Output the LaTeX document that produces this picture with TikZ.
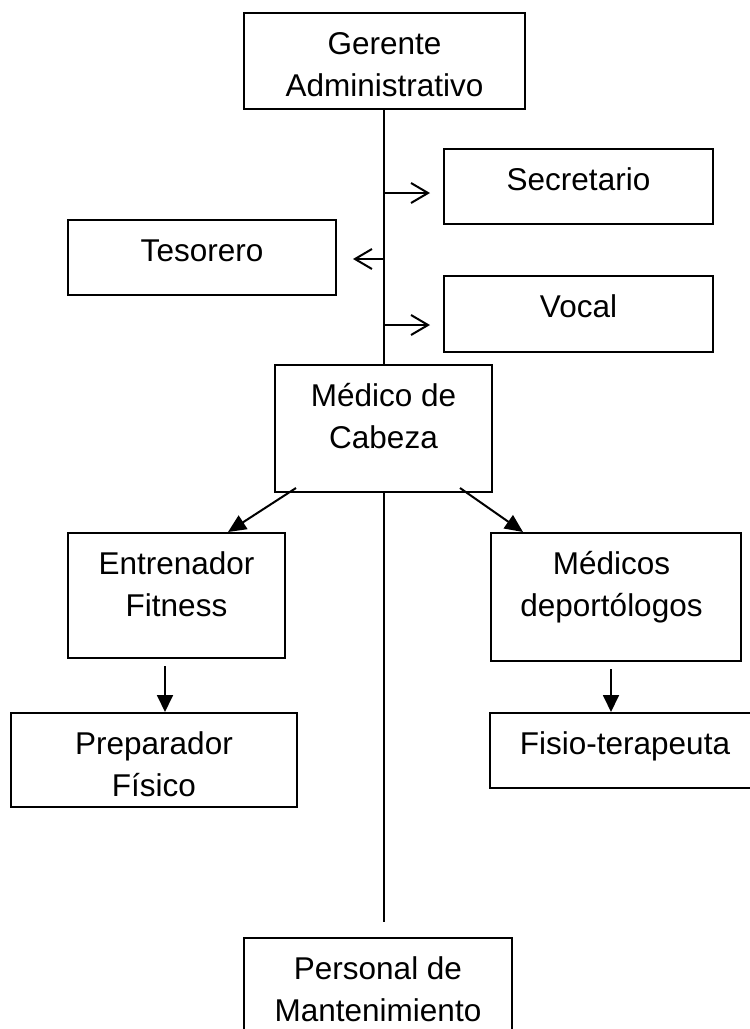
\documentclass[tikz,border=0pt]{standalone}
\usepackage{fontspec}
\setmainfont{Liberation Sans}
\usetikzlibrary{arrows.meta,calc}
\tikzset{
  box/.style={draw=black, line width=2pt, rectangle, inner sep=0pt, fill=white},
  lbl/.style={anchor=base, inner sep=0pt, align=center, font=\fontsize{31.5}{41.5}\selectfont},
  conn/.style={draw=black, line width=2pt},
  openarrow/.style={conn, -{Straight Barb[length=17pt,width=20pt,line width=2pt]}},
  triarrow/.style={conn, -{Triangle[length=18pt,width=16pt]}},
  vtriarrow/.style={draw=black, line width=1.8pt, -{Triangle[length=17pt,width=16pt]}}
}
\begin{document}
\begin{tikzpicture}[x=1pt,y=-1pt]
\fill[white] (0,0) rectangle (750,1029);
\useasboundingbox (0,0) rectangle (750,1029);

% boxes
\node[box, minimum width=281pt, minimum height=96pt]  (ger)  at (384.5,61) {};
\node[box, minimum width=269pt, minimum height=75pt]  (sec)  at (578.5,186.5) {};
\node[box, minimum width=268pt, minimum height=75pt]  (tes)  at (202,257.5) {};
\node[box, minimum width=269pt, minimum height=76pt]  (voc)  at (578.5,314) {};
\node[box, minimum width=217pt, minimum height=127pt] (med)  at (383.5,428.5) {};
\node[box, minimum width=217pt, minimum height=125pt] (ent)  at (176.5,595.5) {};
\node[box, minimum width=250pt, minimum height=128pt] (mdp)  at (616,597) {};
\node[box, minimum width=286pt, minimum height=94pt]  (prep) at (153.75,760) {};
\node[box, minimum width=270pt, minimum height=75pt]  (fis)  at (625,750.5) {};
\node[box, minimum width=268pt, minimum height=122pt] (per)  at (378,999) {};

% labels (base anchor = baseline of the last line)
\node[lbl] (gert)  at (384.5,96) {Gerente\\Administrativo};
\node[lbl] (sect)  at (578.5,190.5) {Secretario};
\node[lbl] (test)  at (202,261.5) {Tesorero};
\node[lbl] (voct)  at (578.5,317.5) {Vocal};
\node[lbl] (medt)  at (383.5,448) {Médico de\\Cabeza};
\node[lbl] (entt)  at (176.5,616) {Entrenador\\Fitness};
\node[lbl] (mdpt)  at (611.5,616) {Médicos\\deportólogos};
\node[lbl] (prept) at (154,796) {Preparador\\Físico};
\node[lbl] (fist)  at (625,754.5) {Fisio-terapeuta};
\node[lbl] (pert)  at (378,1021) {Personal de\\Mantenimiento};

% trunk
\coordinate (tA) at (384,193);
\coordinate (tB) at (384,259);
\coordinate (tC) at (384,325);
\coordinate (tEnd) at (384,922);
\draw[conn] (ger.south -| tA) -- (med.north -| tA);
\draw[conn] (med.south -| tA) -- (tEnd);

% side arrows
\draw[openarrow, shorten >=13pt] (tA) -- (tA -| sec.west);
\draw[openarrow, shorten >=16pt] (tB) -- (tB -| tes.east);
\draw[openarrow, shorten >=13pt] (tC) -- (tC -| voc.west);

% diagonal arrows
\draw[triarrow] ($(med.south west)+(22,-5)$) -- ($(ent.north west)+(161,0)$);
\draw[triarrow] ($(med.south east)+(-33,-5)$) -- ($(mdp.north west)+(33,0)$);

% vertical arrows
\coordinate (vA) at ($(ent.south west)+(98,7)$);
\coordinate (vB) at ($(mdp.south west)+(121,7)$);
\draw[vtriarrow] (vA) -- (vA |- prep.north);
\draw[vtriarrow] (vB) -- (vB |- fis.north);
\end{tikzpicture}
\end{document}
